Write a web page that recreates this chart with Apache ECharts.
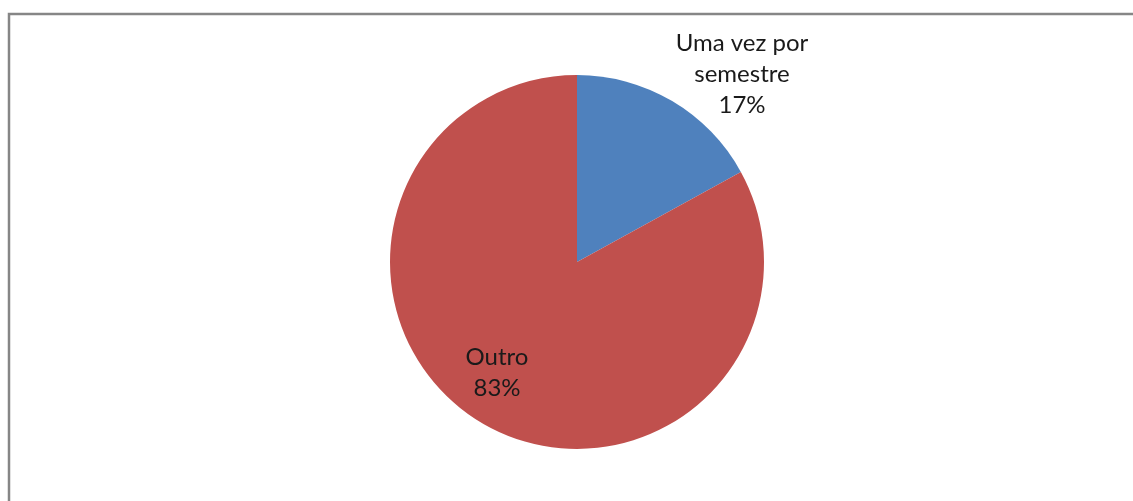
<!DOCTYPE html>
<html>
<head>
<meta charset="utf-8">
<script src="https://cdn.jsdelivr.net/npm/echarts@6/dist/echarts.min.js"></script>
<style>
  html, body { margin: 0; padding: 0; background: #fff; }
  #main { width: 1133px; height: 501px; }
</style>
</head>
<body>
<div id="main"></div>
<script>
var myChart = echarts.init(document.getElementById('main'));

// data
var categories = ['Uma vez por\nsemestre', 'Outro'];
var values = [17, 83];
var colors = ['#4F81BD', '#C0504D'];

// where each label sits (label centre)
var labelSpots = [[742, 74], [497, 373]];

var option = {
    "animation": false,
    "graphic": [
        {
            "type": "rect",
            "shape": { "x": 9, "y": 14, "width": 1200, "height": 600 },
            "style": { "fill": "none", "stroke": "#868686", "lineWidth": 2.5 },
            "silent": true
        }
    ],
    "series": [
        {
            "type": "pie",
            "center": [577, 262],
            "radius": [0, 187],
            "startAngle": 90,
            "clockwise": true,
            "label": {
                "show": true,
                "position": "inside",
                "formatter": "{b}\n{d}%",
                "fontFamily": "Lato",
                "fontSize": 24,
                "lineHeight": 31,
                "color": "#1a1a1a",
                "align": "center"
            },
            "labelLine": { "show": false },
            "labelLayout": function (params) {
                var p = labelSpots[params.dataIndex];
                return { x: p[0], y: p[1], align: 'center', verticalAlign: 'middle' };
            },
            "emphasis": { "disabled": true },
            "data": categories.map(function (c, i) {
                return { "name": c, "value": values[i], "itemStyle": { "color": colors[i] } };
            })
        }
    ]
};

myChart.setOption(option);
</script>
</body>
</html>
